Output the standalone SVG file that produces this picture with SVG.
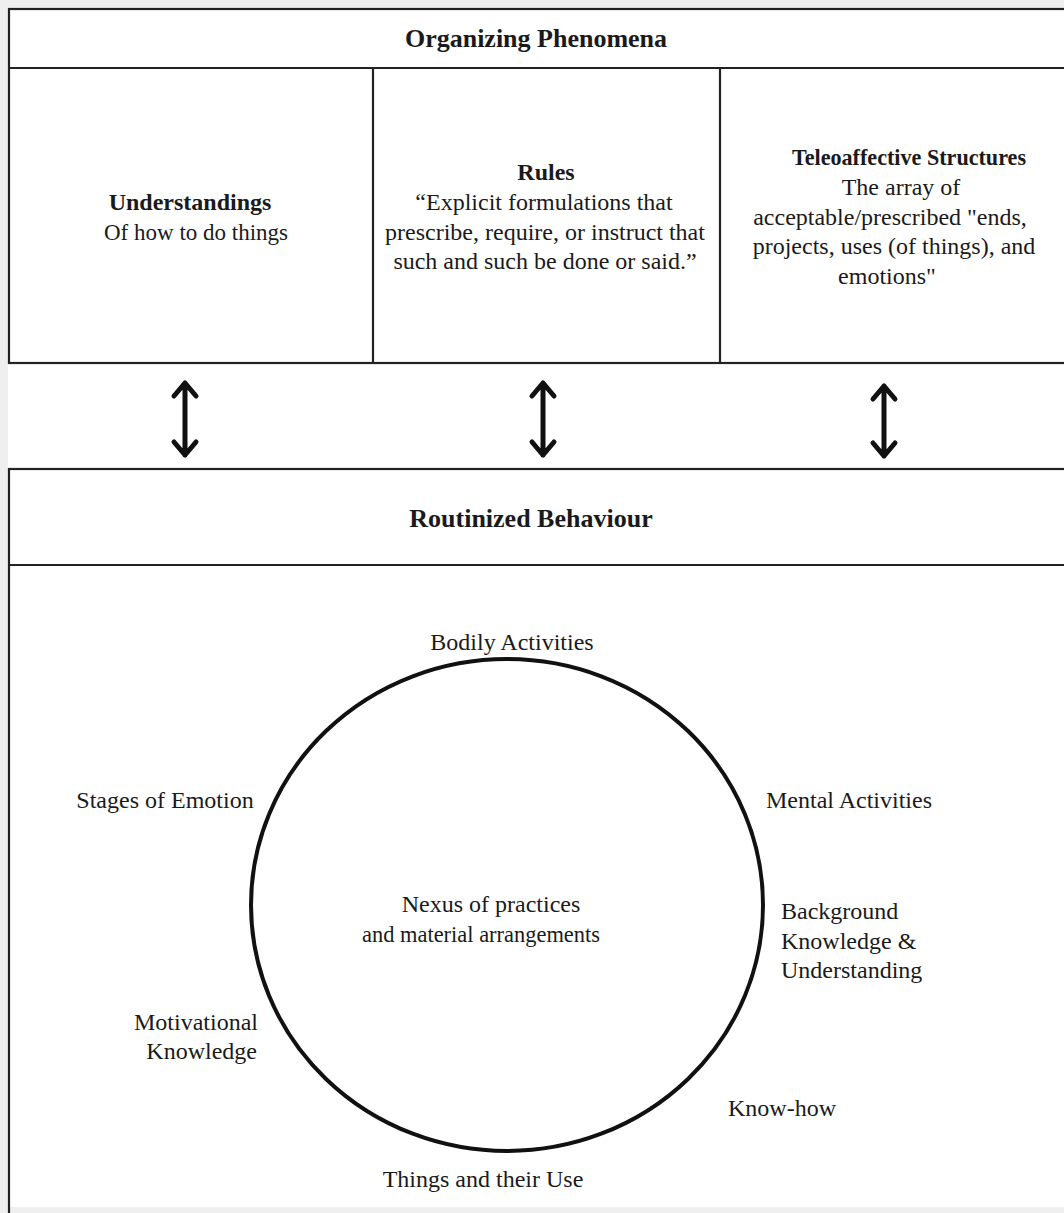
<svg xmlns="http://www.w3.org/2000/svg" width="1064" height="1213" viewBox="0 0 1064 1213">
<style>
  text { font-family: "Liberation Serif", "Times New Roman", serif; font-size: 24px; fill: #1a1a1a; }
  .b { font-weight: bold; }
  .h { font-size: 26px; }
  .c { text-anchor: middle; }
  .e { text-anchor: end; }
  .box { fill: none; stroke: #222; stroke-width: 2.2; }
  .arr { fill: none; stroke: #111; stroke-width: 5; stroke-linecap: round; stroke-linejoin: round; }
</style>
<rect x="0" y="0" width="1064" height="1213" fill="#efefef"/>
<rect x="8" y="8" width="1060" height="1199" fill="#ffffff"/>

<g id="organizing-phenomena">
  <rect class="box" x="9" y="9" width="1060" height="354"/>
  <line class="box" x1="9" y1="68" x2="1064" y2="68"/>
  <text class="b h c" x="536" y="47">Organizing Phenomena</text>
</g>
<g id="understandings">
  <line class="box" x1="373" y1="68" x2="373" y2="363"/>
  <text class="b c" x="190" y="210">Understandings</text>
  <text class="c" x="196" y="240" textLength="184" lengthAdjust="spacingAndGlyphs">Of how to do things</text>
</g>
<g id="rules">
  <line class="box" x1="720" y1="68" x2="720" y2="363"/>
  <text class="b c" x="546" y="180">Rules</text>
  <text class="c" x="544" y="210">“Explicit formulations that</text>
  <text class="c" x="545" y="240">prescribe, require, or instruct that</text>
  <text class="c" x="545" y="269">such and such be done or said.”</text>
</g>
<g id="teleoaffective">
  <text class="b c" x="909" y="165" textLength="234" lengthAdjust="spacingAndGlyphs">Teleoaffective Structures</text>
  <text class="c" x="901" y="195">The array of</text>
  <text class="c" x="890" y="225">acceptable/prescribed "ends,</text>
  <text class="c" x="894" y="254">projects, uses (of things), and</text>
  <text class="c" x="887" y="284">emotions"</text>
</g>

<g id="connectors">
  <path class="arr" d="M185 383 V455 M174 396 L185 383 L196 396 M174 442 L185 455 L196 442"/>
  <path class="arr" d="M543 383 V455 M532 396 L543 383 L554 396 M532 442 L543 455 L554 442"/>
  <path class="arr" d="M884 386 V456 M873 399 L884 386 L895 399 M873 443 L884 456 L895 443"/>
</g>

<g id="routinized-behaviour">
  <rect class="box" x="9" y="469" width="1060" height="760"/>
  <line class="box" x1="9" y1="565" x2="1064" y2="565"/>
  <text class="b h c" x="531" y="527">Routinized Behaviour</text>
</g>
<g id="nexus">
  <ellipse cx="507" cy="905" rx="256" ry="246" fill="none" stroke="#111" stroke-width="4"/>
  <text class="c" x="491" y="912">Nexus of practices</text>
  <text class="c" x="481" y="942" textLength="238" lengthAdjust="spacingAndGlyphs">and material arrangements</text>
</g>
<g id="bodily-activities"><text class="c" x="512" y="650">Bodily Activities</text></g>
<g id="stages-of-emotion"><text class="c" x="165" y="808">Stages of Emotion</text></g>
<g id="mental-activities"><text class="c" x="849" y="808">Mental Activities</text></g>
<g id="background-knowledge">
  <text x="781" y="919">Background</text>
  <text x="781" y="949">Knowledge &amp;</text>
  <text x="781" y="978">Understanding</text>
</g>
<g id="motivational-knowledge">
  <text class="e" x="258" y="1030">Motivational</text>
  <text class="e" x="257" y="1059">Knowledge</text>
</g>
<g id="know-how"><text class="c" x="782" y="1116">Know-how</text></g>
<g id="things-and-their-use"><text class="c" x="483" y="1187">Things and their Use</text></g>
</svg>
